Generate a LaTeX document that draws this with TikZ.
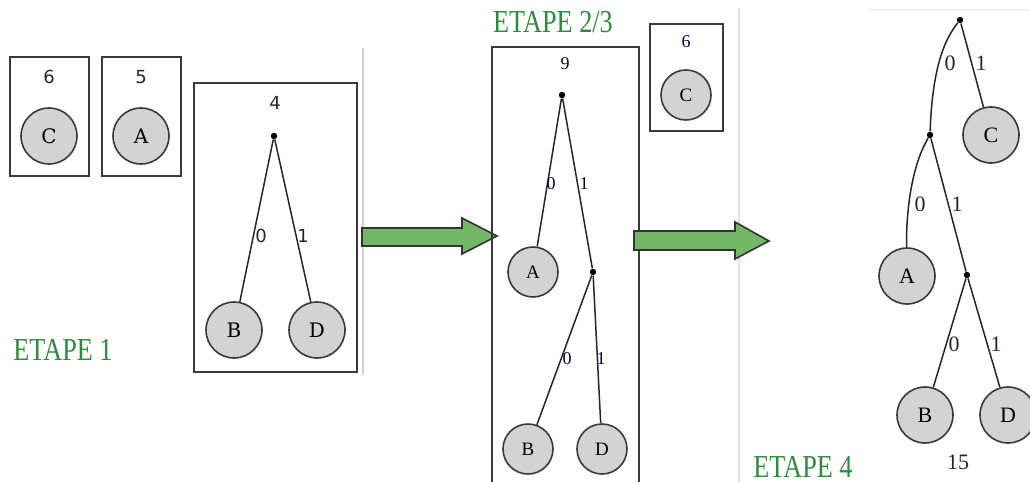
\documentclass[tikz,border=0pt]{standalone}
\usepackage{fontspec}
\setmainfont{Liberation Serif}
\newfontfamily\etapefont[FakeStretch=0.82]{Liberation Serif}
\newfontfamily\numsans{DejaVu Sans}
\newfontfamily\letserif{DejaVu Serif}
\definecolor{etapegreen}{HTML}{2E8B3E}
\definecolor{arrowgreen}{HTML}{72B866}
\definecolor{leaffill}{HTML}{D3D3D3}
\definecolor{edgegray}{HTML}{3A3A3A}
\begin{document}
\begin{tikzpicture}[x=0.5pt,y=-0.5pt,
  leafA/.style={circle,draw=edgegray,fill=leaffill,line width=0.8pt,minimum size=28pt,inner sep=0pt,font=\letserif\fontsize{10}{10}\selectfont},
  leafB/.style={circle,draw=edgegray,fill=leaffill,line width=0.8pt,minimum size=25pt,inner sep=0pt,font=\fontsize{9.5}{9.5}\selectfont},
  leafC/.style={circle,draw=edgegray,fill=leaffill,line width=0.8pt,minimum size=28pt,inner sep=0pt,font=\fontsize{11}{11}\selectfont},
  jdot/.style={circle,fill=black,minimum size=3.2pt,inner sep=0pt},
  boxln/.style={draw=edgegray,line width=0.9pt},
  edg/.style={draw=black!85,line width=0.75pt},
  lblA/.style={font=\numsans\fontsize{9}{9}\selectfont,text=black!85,inner sep=0pt},
  lblB/.style={font=\fontsize{9}{9}\selectfont,text=black!75!blue,inner sep=0pt},
  lblC/.style={font=\fontsize{11}{11}\selectfont,text=black!85,inner sep=0pt},
  etape/.style={font=\etapefont\fontsize{16}{16}\selectfont,text=etapegreen,inner sep=0pt},
  bigarrow/.style={draw=black!80,fill=arrowgreen,line width=0.8pt,line join=miter}
]
\useasboundingbox (0,0) rectangle (1030,482);
% separators
\draw[black!18,line width=0.7pt] (363,48) -- (363,375);
\draw[black!12,line width=0.7pt] (739,8) -- (739,482);
\draw[black!5,line width=0.6pt] (870,10) -- (1030,10);

% ===== ETAPE 1 =====
\draw[boxln] (10,57) rectangle (89,176);
\node[lblA] (n6) at (49,77) {6};
\node[leafA] (c1) at (49,136) {C};
\draw[boxln] (102,57) rectangle (181,176);
\node[lblA] (n5) at (141,77) {5};
\node[leafA] (a1) at (141,136) {A};
\draw[boxln] (194,83) rectangle (357,372);
\node[lblA] (n4) at (275,103) {4};
\node[jdot] (r1) at (274,136) {};
\node[leafA] (b1) at (234,330) {B};
\node[leafA] (d1) at (317,330) {D};
\draw[edg] (r1) -- (b1);
\draw[edg] (r1) -- (d1);
\node[lblA] (l10) at (261,236) {0};
\node[lblA] (l11) at (303,236) {1};
\node[etape] (e1) at (63,350) {ETAPE 1};

% arrow 1
\draw[bigarrow] (362,228) -- (462,228) -- (462,218) -- (497,236) -- (462,254) -- (462,246) -- (362,246) -- cycle;

% ===== ETAPE 2/3 =====
\node[etape] (e2) at (553,22) {ETAPE 2/3};
\draw[boxln] (492,490) -- (492,47) -- (639,47) -- (639,490);
\node[lblB] (n9) at (565,64) {9};
\node[jdot] (r2) at (562,95) {};
\node[leafB] (a2) at (533,272) {A};
\node[jdot] (m2) at (593,272) {};
\node[leafB] (b2) at (528,449) {B};
\node[leafB] (d2) at (602,449) {D};
\draw[edg] (r2) -- (a2);
\draw[edg] (r2) -- (m2);
\draw[edg] (m2) -- (b2);
\draw[edg] (m2) -- (d2);
\node[lblB] (l20) at (551,184) {0};
\node[lblB] (l21) at (584,184) {1};
\node[lblB] (l22) at (567,359) {0};
\node[lblB] (l23) at (601,359) {1};
\draw[boxln] (650,24) rectangle (723,131);
\node[lblB] (n6b) at (686,42) {6};
\node[leafB] (c2) at (686,95) {C};

% arrow 2
\draw[bigarrow] (634,231) -- (735,231) -- (735,222) -- (769,241) -- (735,259) -- (735,250) -- (634,250) -- cycle;

% ===== ETAPE 4 =====
\node[jdot] (r3) at (960,20) {};
\node[jdot] (m3) at (930,135) {};
\node[jdot] (k3) at (967,275) {};
\node[leafC] (c3) at (991,135) {C};
\node[leafC] (a3) at (907,276) {A};
\node[leafC] (b3) at (925,415) {B};
\node[leafC] (d3) at (1008,415) {D};
\draw[edg] (r3) .. controls (940,45) and (932,80) .. (m3);
\draw[edg] (r3) -- (c3);
\draw[edg] (m3) .. controls (912,165) and (906,210) .. (a3);
\draw[edg] (m3) -- (k3);
\draw[edg] (k3) -- (b3);
\draw[edg] (k3) -- (d3);
\node[lblC] (l30) at (950,63) {0};
\node[lblC] (l31) at (981,63) {1};
\node[lblC] (l32) at (920,204) {0};
\node[lblC] (l33) at (957,204) {1};
\node[lblC] (l34) at (954,344) {0};
\node[lblC] (l35) at (996,344) {1};
\node[lblC] (n15) at (958,462) {15};
\node[etape] (e4) at (803,467) {ETAPE 4};
\end{tikzpicture}
\end{document}
